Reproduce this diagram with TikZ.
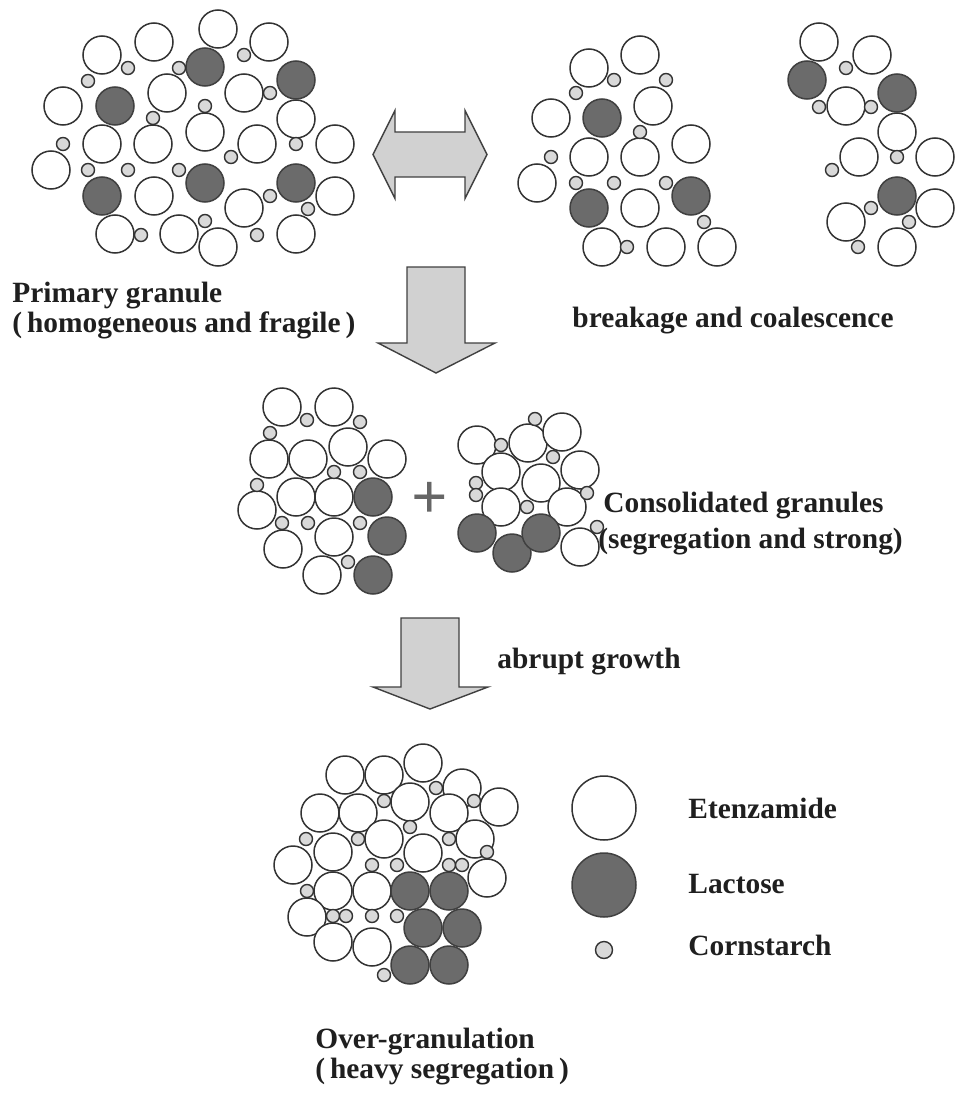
\documentclass[tikz,border=0pt]{standalone}
\usepackage{fontspec}
\setmainfont{Liberation Serif}
\begin{document}
\begin{tikzpicture}[x=0.5pt,y=-0.5pt,
  ew/.style={draw=black!80,line width=0.75pt,fill=white},
  lc/.style={draw=black!75,line width=0.75pt,fill=black!58},
  cs/.style={draw=black!80,line width=0.7pt,fill=black!15},
  bigarrow/.style={draw=black!75,line width=0.7pt,fill=black!18,line join=miter},
  lbl/.style={font=\fontsize{14.7}{17}\selectfont\bfseries,text=black!88,inner sep=0pt,anchor=base west}]
\useasboundingbox (0,0) rectangle (956,1097);
\def\R{19}\def\r{6.5}
% ---------- Primary granule ----------
\foreach \x/\y in {102/55,154/42,218/29,269/42,63/106,167/93,244/93,296/119,102/144,153/144,205/132,257/144,335/144,51/170,154/196,244/208,335/196,115/234,179/234,218/247,296/234}
  \path[ew] (\x,\y) circle[radius=\R];
\foreach \x/\y in {205/67,296/80,115/106,102/196,205/183,296/183}
  \path[lc] (\x,\y) circle[radius=\R];
\foreach \x/\y in {128/68,88/81,179/68,244/55,270/93,205/106,153/118,63/144,296/144,231/157,88/170,128/170,179/170,270/196,308/209,141/235,205/221,257/235}
  \path[cs] (\x,\y) circle[radius=\r];
% ---------- breakage group 1 ----------
\foreach \x/\y in {589/68,640/55,551/118,653/106,589/157,640/157,691/144,537/183,640/208,602/247,666/247,717/247}
  \path[ew] (\x,\y) circle[radius=\R];
\foreach \x/\y in {602/118,589/208,691/196}
  \path[lc] (\x,\y) circle[radius=\R];
\foreach \x/\y in {614/80,576/93,666/80,640/132,551/157,576/183,614/183,666/183,704/222,627/247}
  \path[cs] (\x,\y) circle[radius=\r];
% ---------- breakage group 2 ----------
\foreach \x/\y in {819/42,872/55,846/106,897/132,859/157,935/157,846/222,935/208,897/247}
  \path[ew] (\x,\y) circle[radius=\R];
\foreach \x/\y in {807/80,897/93,897/196}
  \path[lc] (\x,\y) circle[radius=\R];
\foreach \x/\y in {846/68,819/107,871/107,897/157,832/170,871/208,909/222,858/247}
  \path[cs] (\x,\y) circle[radius=\r];
% ---------- double arrow ----------
\draw[bigarrow] (373,154.5) -- (395,110.5) -- (395,132) -- (465,132) -- (465,110.5) -- (487,154.5)
  -- (465,198.5) -- (465,177) -- (395,177) -- (395,198.5) -- cycle;
% ---------- down arrow 1 ----------
\draw[bigarrow] (407,267) -- (465,267) -- (465,343) -- (495,343) -- (436,373) -- (378,343) -- (407,343) -- cycle;
% ---------- labels top ----------
\node[lbl] (prim1) at (12,302) {Primary granule};
\node[lbl] (prim2) at (12,332) {(\,homogeneous and fragile\,)};
\node[lbl] (brk) at (572,327) {breakage and coalescence};
% ---------- consolidated granules ----------
\foreach \x/\y in {282/407,334/407,269/459,308/459,348/447,387/459,257/510,296/497,334/497,334/537,283/549,322/575,
                   477/445,528/443,562/432,501/472,541/483,580/470,501/507,567/507,580/547}
  \path[ew] (\x,\y) circle[radius=\R];
\foreach \x/\y in {373/497,387/536,373/575,477/533,512/553,541/533}
  \path[lc] (\x,\y) circle[radius=\R];
\foreach \x/\y in {307/420,270/433,360/422,334/472,360/472,257/485,282/523,308/523,360/523,348/562,
                   501/445,535/419,553/457,476/483,476/495,527/507,587/493,597/527}
  \path[cs] (\x,\y) circle[radius=\r];
\node[font=\fontsize{32}{32}\selectfont\bfseries,text=black!60,inner sep=0pt] (plus) at (430,500) {+};
\node[lbl] (cons1) at (603,512) {Consolidated granules};
\node[lbl] (cons2) at (598,548) {(segregation and strong)};
% ---------- down arrow 2 ----------
\draw[bigarrow] (401,618) -- (459,618) -- (459,687) -- (488,687) -- (430,709) -- (373,687) -- (401,687) -- cycle;
\node[lbl] (abr) at (497,668) {abrupt growth};
% ---------- over-granulation ----------
\foreach \x/\y in {345/775,384/775,423/763,462/788,499/807,320/813,358/813,410/802,449/813,475/839,
                   293/865,333/852,384/839,423/853,487/878,333/891,372/891,307/917,333/942,372/947}
  \path[ew] (\x,\y) circle[radius=\R];
\foreach \x/\y in {410/891,449/891,423/928,462/928,410/965,449/965}
  \path[lc] (\x,\y) circle[radius=\R];
\foreach \x/\y in {436/788,384/801,474/801,410/827,306/839,358/839,449/839,487/852,372/865,397/865,449/865,462/865,
                   307/891,333/916,346/916,372/916,397/916,384/975}
  \path[cs] (\x,\y) circle[radius=\r];
\node[lbl] (over1) at (315,1048) {Over-granulation};
\node[lbl] (over2) at (315,1078) {(\,heavy segregation\,)};
% ---------- legend ----------
\path[ew] (604,808) circle[radius=32];
\path[lc] (604,885) circle[radius=32];
\path[cs] (604,950) circle[radius=8.5];
\node[lbl] (le) at (688,818) {Etenzamide};
\node[lbl] (ll) at (688,893) {Lactose};
\node[lbl] (lcs) at (688,955) {Cornstarch};
\end{tikzpicture}
\end{document}
